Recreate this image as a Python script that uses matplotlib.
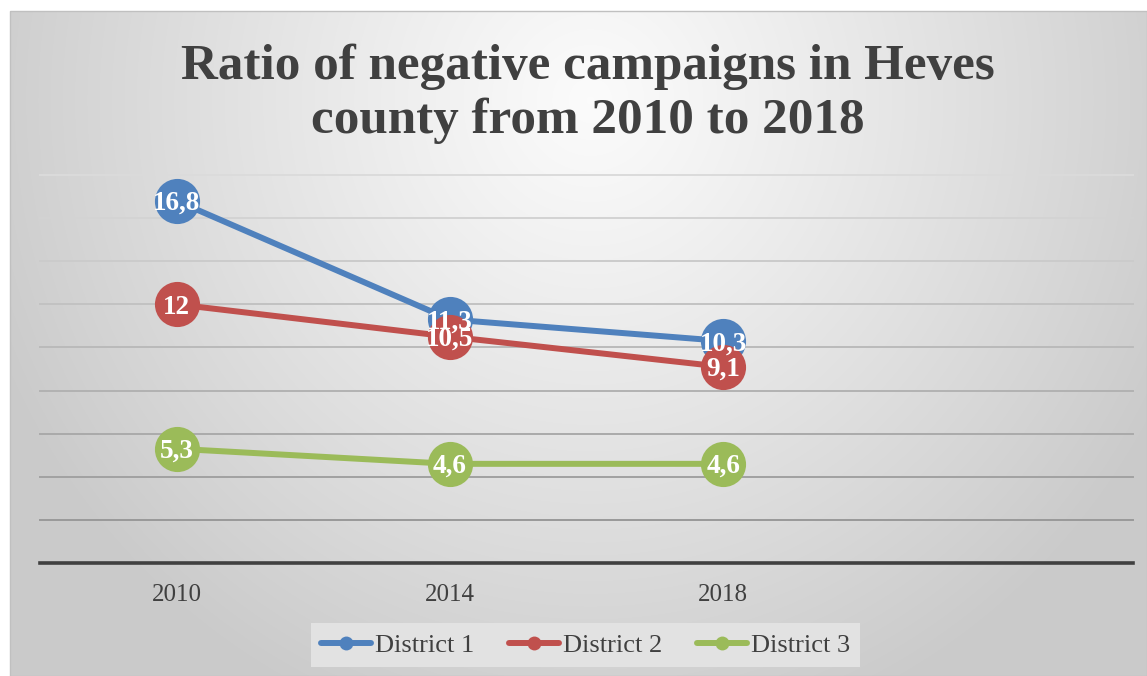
import numpy as np
import matplotlib
matplotlib.use("Agg")
import matplotlib.pyplot as plt
from matplotlib.patches import Rectangle
from matplotlib.lines import Line2D

# ---- data ----
categories = ["2010", "2014", "2018", ""]
series_names = ["District 1", "District 2", "District 3"]
district1 = [16.8, 11.3, 10.3]
district2 = [12.0, 10.5, 9.1]
district3 = [5.3, 4.6, 4.6]
colors = ["#4F81BD", "#C0504D", "#9BBB59"]
title = "Ratio of negative campaigns in Heves\ncounty from 2010 to 2018"

W, H = 1147, 676
fig = plt.figure(figsize=(W / 100, H / 100), dpi=100)
fig.patch.set_facecolor("white")

# background radial gradient (chart area)
bx0, by0 = 10, 11
bg = fig.add_axes([bx0 / W, 0, 1 - bx0 / W, 1 - by0 / H], zorder=-10)
gw, gh = W - bx0, H - by0
yy, xx = np.mgrid[0:gh, 0:gw]
cx, cy = 590 - bx0, 100 - by0
d = np.sqrt(((xx - cx) / 640.0) ** 2 + ((yy - cy) / 660.0) ** 2)
val = 0.985 - 0.19 * np.clip(d, 0, 1) ** 1.1
img = np.dstack([val, val, val])
bg.imshow(img, aspect="auto", extent=[0, 1, 0, 1], interpolation="bilinear")
bg.set_xlim(0, 1)
bg.set_ylim(0, 1)
bg.axis("off")
fig.add_artist(Rectangle((bx0 / W, 0), 1 - bx0 / W, 1 - by0 / H, transform=fig.transFigure,
                         fill=False, edgecolor="#c0c0c0", linewidth=1.0, zorder=-5))

# main axes
left, right = 40 / W, 1133 / W
bottom, top = 1 - 563 / H, 1 - 175 / H
ax = fig.add_axes([left, bottom, right - left, top - bottom])
ax.set_facecolor("none")
ax.set_xlim(-0.5, len(categories) - 0.5)
ax.set_ylim(0, 18)
for s in ax.spines.values():
    s.set_visible(False)

grid_vals = np.arange(2, 19, 2)
light = np.array([0.86, 0.86, 0.86])
dark = np.array([0.60, 0.60, 0.60])
for v in grid_vals:
    t = (v - 2) / 16.0
    c = dark * (1 - t) + light * t
    ax.axhline(v, color=tuple(c), linewidth=1.4, zorder=1, clip_on=False)
ax.axhline(0, color="#404040", linewidth=2.6, zorder=2, clip_on=False)

ax.set_yticks([])
ax.set_xticks(range(len(categories)))
ax.set_xticklabels(categories, fontsize=18, color="#404040", family="Liberation Serif")
ax.tick_params(axis="x", length=0, pad=15)

xs = np.arange(len(district1))
all_series = [district1, district2, district3]
for name, vals, col in zip(series_names, all_series, colors):
    ax.plot(xs, vals, color=col, linewidth=4.3, marker="o", markersize=32.5,
            markeredgewidth=0, solid_capstyle="round", label=name, zorder=3,
            clip_on=False)

for vals in all_series:
    for x, v in zip(xs, vals):
        lab = (f"{v:g}").replace(".", ",")
        ax.annotate(lab, (x, v), xytext=(0, -2), textcoords="offset points",
                    ha="center", va="center", color="white", fontsize=19.5,
                    fontweight="bold", family="Liberation Serif", zorder=5)

# title
fig.text(588 / W, 1 - 94 / H, title, ha="center", va="center", fontsize=36.8,
         fontweight="bold", color="#404040", family="Liberation Serif",
         linespacing=1.2)

# legend
hs = [Line2D([0], [0], color=c, linewidth=4.3, marker="o", markersize=10,
             markeredgewidth=0, solid_capstyle="round") for c in colors]
leg = fig.legend(hs, series_names, loc="center", bbox_to_anchor=(585.5 / W, 1 - 645 / H),
                 ncol=3, frameon=True, fancybox=False, framealpha=1,
                 facecolor="#e2e2e2", edgecolor="none", handlelength=1.9,
                 handletextpad=0.15, columnspacing=1.3, borderpad=0.4,
                 prop={"family": "Liberation Serif", "size": 19})
for t in leg.get_texts():
    t.set_color("#404040")

fig.savefig("out.png", dpi=100)
